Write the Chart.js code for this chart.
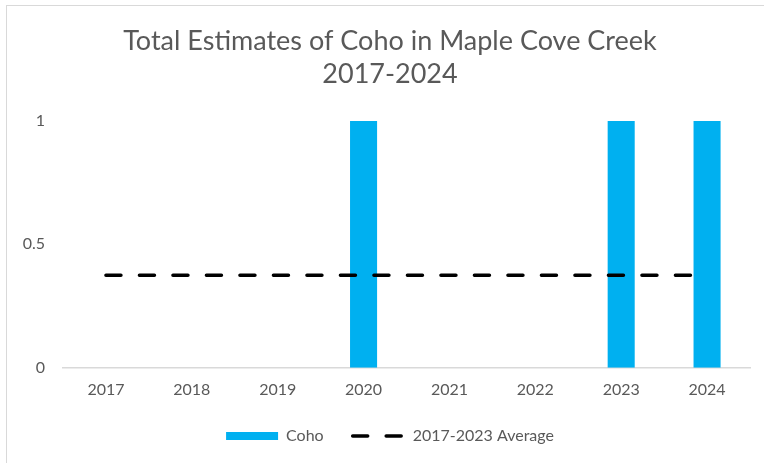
<!DOCTYPE html>
<html>
<head>
<meta charset="utf-8">
<script src="https://cdn.jsdelivr.net/npm/chart.js@4"></script>
<style>
  html, body { margin: 0; padding: 0; background: #ffffff; overflow: hidden; }
  .frame { position: absolute; left: 6px; top: 5px; width: 900px; height: 600px; border: 1px solid #d9d9d9; }
  .wrap { position: absolute; left: 0; top: 0; width: 780px; height: 463px; }
</style>
</head>
<body>
<div class="frame"></div>
<div class="wrap"><canvas id="cohoChart" width="780" height="463"></canvas></div>
<script>
// ------------------------------
// Data
// ------------------------------

const years = ["2017", "2018", "2019", "2020", "2021", "2022", "2023", "2024"];

const cohoCounts = [0, 0, 0, 1, 0, 0, 1, 1];

const averageLine = [0.375, 0.375, 0.375, 0.375, 0.375, 0.375, 0.375, 0.375];

const yTicks = [0, 0.5, 1];

const titleLines = ["Total Estimates of Coho in Maple Cove Creek", "2017-2024"];

// ------------------------------
// Chart
// ------------------------------

const textColor = "#595959";
const fontName = "Lato";

new Chart(document.getElementById("cohoChart"), {
  type: "bar",
  data: {
    labels: years,
    datasets: [
      {
        type: "line",
        label: "2017-2023 Average",
        data: averageLine,
        borderColor: "#000000",
        borderWidth: 3.5,
        borderDash: [15, 18.5],
        borderCapStyle: "round",
        pointRadius: 0,
        fill: false,
        order: 0
      },
      {
        label: "Coho",
        data: cohoCounts,
        backgroundColor: "#00b0f0",
        barPercentage: 0.315,
        categoryPercentage: 1,
        order: 1
      }
    ]
  },
  options: {
    responsive: false,
    animation: false,
    layout: { padding: { left: 0, right: 0, top: 0, bottom: 9 } },
    plugins: {
      title: {
        display: true,
        text: titleLines,
        color: textColor,
        font: { family: fontName, size: 27, weight: "normal", lineHeight: 1.22 },
        padding: { top: 25, bottom: 30 }
      },
      legend: {
        position: "bottom",
        labels: {
          color: textColor,
          font: { family: fontName, size: 16 },
          usePointStyle: true,
          pointStyleWidth: 52,
          boxHeight: 8,
          padding: 29,
          generateLabels: () => [
            {
              text: "Coho",
              fillStyle: "#00b0f0",
              strokeStyle: "#00b0f0",
              lineWidth: 0,
              pointStyle: "rect",
              fontColor: textColor,
              datasetIndex: 1
            },
            {
              text: "2017-2023 Average",
              fillStyle: "#000000",
              strokeStyle: "#000000",
              lineWidth: 3.5,
              lineDash: [15, 18.5],
              lineCap: "round",
              pointStyle: "line",
              fontColor: textColor,
              datasetIndex: 0
            }
          ]
        }
      },
      tooltip: { enabled: false }
    },
    scales: {
      x: {
        // legend padding is wider now, give the extra height back here
        afterFit: (scale) => { scale.height = scale.height - 12; },
        grid: { display: false, drawTicks: false },
        border: { display: true, color: "#d9d9d9", width: 1.5 },
        ticks: { color: textColor, font: { family: fontName, size: 16 }, padding: 12, maxRotation: 0 }
      },
      y: {
        min: 0,
        max: 1,
        afterBuildTicks: (scale) => { scale.ticks = yTicks.map(v => ({ value: v })); },
        afterFit: (scale) => { scale.width = 63; },
        grid: { display: false, drawTicks: false },
        border: { display: false },
        ticks: { color: textColor, font: { family: fontName, size: 16 }, padding: 18, callback: (v) => String(v) }
      },
      // empty right-hand strip, keeps the plot ending where the reference does
      spacer: {
        type: "linear",
        position: "right",
        afterFit: (scale) => { scale.width = 30; },
        grid: { display: false, drawTicks: false },
        border: { display: false },
        ticks: { display: false }
      }
    }
  }
});
</script>
</body>
</html>
